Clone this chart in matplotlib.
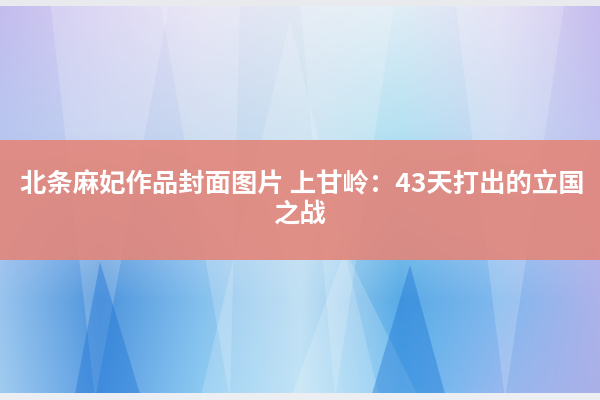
import numpy as np
import matplotlib
matplotlib.use("Agg")
import matplotlib.pyplot as plt
from matplotlib.patches import Polygon, Rectangle
from matplotlib.colors import to_rgb

plt.rcParams['font.family'] = ['Noto Sans CJK SC', 'DejaVu Sans']

title_lines = ["北条麻妃作品封面图片 上甘岭：43天打出的立国", "之战"]

W, H = 600, 400
fig = plt.figure(figsize=(6, 4), dpi=100)
ax = fig.add_axes([0, 0, 1, 1])
ax.set_xlim(0, W)
ax.set_ylim(H, 0)
ax.axis('off')

# background colour grid (rows: y positions, cols: x positions)
gx = [0, 100, 200, 300, 400, 500, 600]
gy = [0, 130, 300, 400]
grid = [
    ["#c4bcee", "#d8d0f2", "#e6e2f4", "#e4eaf4", "#e2eef6", "#e2def4", "#c6bcee"],
    ["#b8c6f0", "#c4d0f0", "#c8d8f0", "#c8e0f0", "#b4e2f2", "#c8d8f2", "#c0c2f0"],
    ["#98c4ee", "#4c94dc", "#84c0ee", "#b4daf2", "#58aae6", "#80b8ee", "#aeb2ea"],
    ["#a0ccf0", "#5c9ee4", "#8ccaf2", "#b4def4", "#62baf0", "#98b8ee", "#aab0e8"],
]
gc = np.array([[to_rgb(c) for c in row] for row in grid])
xs = np.arange(W)
ys = np.arange(H)
img = np.zeros((H, W, 3))
tmp = np.zeros((len(gy), W, 3))
for i in range(len(gy)):
    for k in range(3):
        tmp[i, :, k] = np.interp(xs, gx, gc[i, :, k])
for k in range(3):
    for j in range(W):
        img[:, j, k] = np.interp(ys, gy, tmp[:, j, k])
ax.imshow(img, extent=[0, W, H, 0], aspect='auto', zorder=0)

# decorative light / dark triangles
light = [
    [(50, 0), (170, 0), (95, 400)],
    [(290, 20), (200, 400), (380, 400)],
    [(300, 0), (395, 0), (335, 400)],
    [(345, 250), (290, 400), (420, 400)],
    [(455, 0), (565, 0), (505, 400)],
    [(160, 0), (240, 0), (230, 400)],
]
for p in light:
    ax.add_patch(Polygon(p, closed=True, facecolor='white', alpha=0.18,
                         edgecolor='none', zorder=1))
dark = [
    [(100, 262), (75, 394), (140, 394)],
    [(410, 265), (372, 394), (445, 394)],
]
for p in dark:
    ax.add_patch(Polygon(p, closed=True, facecolor='#1a72d4', alpha=0.4,
                         edgecolor='none', zorder=1))

# top and bottom pale strips
ax.add_patch(Rectangle((0, 0), W, 6, facecolor='#e8eaee', edgecolor='none', zorder=2))
ax.add_patch(Rectangle((0, 393), W, 7, facecolor='#eceef2', edgecolor='none', zorder=2))

# salmon band
ax.add_patch(Rectangle((0, 140), W, 120, facecolor='#e3867a', alpha=0.9,
                       edgecolor='none', zorder=3))

ax.text(302, 184, title_lines[0], color='white', fontsize=19, fontweight='bold',
        ha='center', va='center', zorder=4)
ax.text(300, 214, title_lines[1], color='white', fontsize=19, fontweight='bold',
        ha='center', va='center', zorder=4)

fig.savefig("out.png", dpi=100)
